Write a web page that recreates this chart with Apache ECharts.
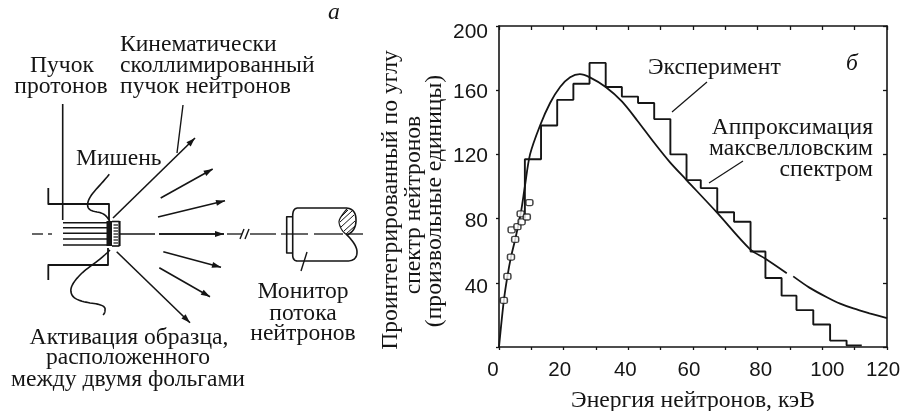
<!DOCTYPE html>
<html><head><meta charset="utf-8">
<style>html,body{margin:0;padding:0;background:#fff}#c{width:901px;height:411px}</style>
<script src="https://cdn.jsdelivr.net/npm/echarts@6/dist/echarts.min.js"></script>
</head><body><div id="c"></div>
<script>
// Data
const binEdges = [8,13,18,23,28,33,38,43,48,53,58,62.4,67.5,72.7,77.8,82.4,87.4,92,97.2,102.4,107.5,112.2];
const binLevels = [117,138,154,164,177,162,156,152,142,120,104,99,84,78,59.5,43,32,23,14,4,1];
const histogramStart = 80;
const curveX = [0,1.5,2.6,3.7,5,6.7,8,9.6,12.7,15.8,18.9,22,25,28.1,33,38,42.8,47.7,52.9,58,67.3,77.6,82.4,89,90,91,96,101.4,105.5,109.6,114.6,120];
const curveY = [0,29,44,56,67,83,100,120,138,152,162,168,170,168,162,153,141,128,115,104,84,61,55,46,'-',44,37,31,27,24,21,18];
const squareX = [1.5,2.6,3.7,5,3.9,5.7,7,6.7,8.6,9.4];
const squareY = [29,44,56,67,73,75,78,83,81,90];
const xTickLabels = ['0','20','40','60','80','100','120'];
const yTickLabels = ['40','80','120','160','200'];

const histogram = [[binEdges[0], histogramStart]];
binLevels.forEach((v,i)=>{histogram.push([binEdges[i],v]);histogram.push([binEdges[i+1],v]);});
const curve = curveX.map((x,i)=>[x,curveY[i]]);
const squares = squareX.map((x,i)=>[x,squareY[i]]);

const INK='#151515', SERIF='"Liberation Serif",serif', SANS='"Liberation Sans",sans-serif', FS=23.6;
const g=[];
const poly=(pts,w=1.6)=>g.push({type:'polyline',silent:true,shape:{points:pts},style:{stroke:INK,lineWidth:w,fill:null,lineJoin:'round'}});
// flatten a list of segments (2 pts = line, 3 pts = quadratic, 4 pts = cubic) into one polyline
const curvePath=(segs,w=1.6)=>{
  const pts=[segs[0][0]];
  segs.forEach(s=>{for(let k=1;k<=14;k++){const t=k/14,u=1-t;let p;
    if(s.length===2)p=[s[0][0]*u+s[1][0]*t,s[0][1]*u+s[1][1]*t];
    else if(s.length===3)p=[0,1].map(i=>u*u*s[0][i]+2*u*t*s[1][i]+t*t*s[2][i]);
    else p=[0,1].map(i=>u*u*u*s[0][i]+3*u*u*t*s[1][i]+3*u*t*t*s[2][i]+t*t*t*s[3][i]);
    pts.push(p);}});
  poly(pts,w);
};
const arrow=(x0,y0,x1,y1)=>{
  poly([[x0,y0],[x1,y1]]);
  const a=Math.atan2(y1-y0,x1-x0),L=9,W=3;
  const bx=x1-L*Math.cos(a),by=y1-L*Math.sin(a);
  g.push({type:'polygon',silent:true,shape:{points:[[x1,y1],[bx-W*Math.sin(a),by+W*Math.cos(a)],[bx+W*Math.sin(a),by-W*Math.cos(a)]]},style:{fill:INK,stroke:null}});
};
const label=(t,x,base,opt={})=>{
  const s=opt.size||FS;
  const rot=opt.rot||0;
  // base = alphabetic baseline coordinate (y, or x when rotated)
  g.push({type:'text',silent:true,x:rot?base-s*0.29:x,y:rot?x:base-s*0.29,rotation:rot,style:{text:t,x:0,y:0,align:opt.align||'left',verticalAlign:'middle',font:`${opt.italic?'italic ':''}${s}px ${SERIF}`,fill:INK}});
};

// Panel a: schematic
poly([[62.7,104],[62.7,220]]);
poly([[48.3,188],[48.3,204],[109,204],[109,220]],1.8);
poly([[48.3,280],[48.3,265],[108,265],[108,248]],1.8);
[222.7,227.7,233.3,239,245].forEach(y=>poly([[63,y],[108,y]]));
g.push({type:'rect',silent:true,shape:{x:106.5,y:221,width:5.5,height:25},style:{fill:INK}});
poly([[119.5,221],[119.5,246]],2.2);
poly([[112,221.5],[119.5,221.5]]);poly([[112,246],[119.5,246]]);
[225,228,231,234,237,240,243].forEach(y=>poly([[113.5,y],[118,y]],1.2));
[[32,43],[48,52],[120,155],[159,224],[227,242],[250,276],[281,308],[314,343],[347,363]].forEach(s=>poly([[s[0],234],[s[1],234]],1.3));
arrow(113,218,195,138);
arrow(160.7,198,212.7,169);
arrow(158,217,225,200.7);
arrow(159,234,224,234);
arrow(163.3,251.7,221,267.3);
arrow(159.3,267.7,210,296.7);
arrow(116.7,251.7,190,322.7);
poly([[183,105],[177,153]],1.4);
curvePath([[[109.3,174.3],[100,186],[90,194],[88,202]],[[88,202],[86,210],[92,211],[97,212]],[[97,212],[104,213],[107,216],[110,222]]]);
curvePath([[[110,250],[98,262],[88,267],[81,274]],[[81,274],[74,281],[70,287],[71,292]],[[71,292],[72,299],[80,301],[90,303]],[[90,303],[100,304],[106,306],[105,310]],[[105,310],[105,313],[104,314],[103,315]]]);
curvePath([[[292.7,216],[292.7,208],[298,208]],[[298,208],[345,208]],[[345,208],[356,208],[356,220]],[[356,220],[356,231],[347,235]],[[347,235],[357,245],[357,252]],[[357,252],[357,261],[347,261]],[[347,261],[298,261]],[[298,261],[292.7,261],[292.7,255]],[[292.7,255],[292.7,216]]]);
poly([[292.7,216.7],[286.7,216.7],[286.7,253],[292.7,253]]);
curvePath([[[347,209],[339,218],[339,222]],[[339,222],[340,230],[347,235]]],1.2);
[[341,217,348,210],[340,222,352,211],[341,227,354,215],[344,231,355,221],[346,234,355,226]].forEach(s=>poly([[s[0],s[1]],[s[2],s[3]]],1));
poly([[307,252],[301,271]],1.4);
poly([[240,239],[244,229]],1.4);poly([[245,239],[249,229]],1.4);

label('а',328,20,{italic:true});
label('Кинематически',120,52);
label('сколлимированный',120,73);
label('пучок нейтронов',120,94);
label('Пучок',62,73,{align:'center'});
label('протонов',61,94,{align:'center'});
label('Мишень',76,166);
label('Монитор',303,299,{align:'center'});
label('потока',303,321,{align:'center'});
label('нейтронов',303,341,{align:'center'});
label('Активация образца,',129,345,{align:'center'});
label('расположенного',128,365,{align:'center'});
label('между двумя фольгами',128,387,{align:'center'});

// Panel b annotations
label('Эксперимент',648,75);
label('Аппроксимация',873,135,{align:'right'});
label('максвелловским',873,156,{align:'right'});
label('спектром',873,177,{align:'right'});
label('б',846,71,{italic:true});
poly([[672,112],[707,82]],1.2);
poly([[709,183],[743,161]],1.2);
label('Проинтегрированный по углу',200,398,{align:'center',rot:Math.PI/2});
label('спектр нейтронов',205,421,{align:'center',rot:Math.PI/2});
label('(произвольные единицы)',201,442,{align:'center',rot:Math.PI/2});

const axisLine={show:true,onZero:false,lineStyle:{color:INK,width:1.6}};
const inTick={show:true,inside:true,length:4,lineStyle:{color:INK,width:1.3}};
// hand-set label offsets seen in the reference (px: negative = left / positive = down)
const xShift={0:-6,20:-4,40:-3,60:-4,80:3,100:5,120:-4};
const yShift={40:4,80:3,120:2,160:2,200:6};
const xRich={},yRich={};
xTickLabels.forEach(t=>{const s=xShift[t];xRich['x'+t]={fontFamily:SANS,fontSize:20.5,color:INK,padding:s<0?[0,-2*s,0,0]:[0,0,0,2*s]};});
yTickLabels.forEach(t=>{yRich['y'+t]={fontFamily:SANS,fontSize:21,color:INK,padding:[2*yShift[t],0,0,0]};});
const chart=echarts.init(document.getElementById('c'),null,{renderer:'canvas'});
chart.setOption({
  animation:false,backgroundColor:'#fff',
  grid:{left:499,right:14,top:26,bottom:64,containLabel:false,outerBoundsMode:'none'},
  xAxis:[
    {type:'value',min:0,max:120,interval:10,position:'bottom',axisLine,axisTick:{show:true,length:3,lineStyle:{color:INK,width:1.3}},splitLine:{show:false},
     axisLabel:{formatter:v=>xTickLabels.includes(String(v))?`{x${v}|${v}}`:'',rich:xRich,color:INK,fontFamily:SANS,fontSize:20.5,margin:13,showMinLabel:true,showMaxLabel:true,hideOverlap:false},
     name:'Энергия нейтронов, кэВ',nameLocation:'middle',nameGap:42,nameTextStyle:{fontFamily:SERIF,fontSize:FS,color:INK}},
    {type:'value',min:0,max:120,interval:10,position:'top',axisLine,axisTick:inTick,axisLabel:{show:false},splitLine:{show:false}}
  ],
  yAxis:[
    {type:'value',min:0,max:200,interval:40,position:'left',axisLine,axisTick:{show:true,length:3,lineStyle:{color:INK,width:1.3}},splitLine:{show:false},
     axisLabel:{formatter:v=>yTickLabels.includes(String(v))?`{y${v}|${v}}`:'',rich:yRich,color:INK,fontFamily:SANS,fontSize:21,margin:11}},
    {type:'value',min:0,max:200,interval:40,position:'right',axisLine,axisTick:inTick,axisLabel:{show:false},splitLine:{show:false}}
  ],
  series:[
    {name:'Эксперимент',type:'line',data:histogram,showSymbol:false,silent:true,lineStyle:{color:INK,width:1.9},z:3},
    {name:'Аппроксимация',type:'line',data:curve,smooth:0.3,showSymbol:false,silent:true,connectNulls:false,lineStyle:{color:INK,width:1.8},z:4},
    {name:'Точки',type:'scatter',data:squares,symbol:'roundRect',symbolSize:[7,6],silent:true,itemStyle:{color:'#fff',borderColor:INK,borderWidth:1.4},z:5}
  ],
  graphic:{elements:g}
});
</script></body></html>
